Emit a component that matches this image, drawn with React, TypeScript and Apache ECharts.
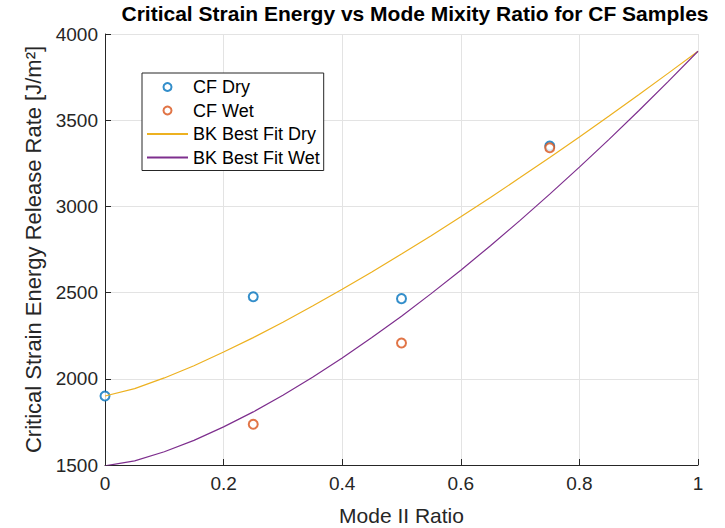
import { useEffect, useRef } from 'react';
import * as echarts from 'echarts';

const dryRatio = [0, 0.25, 0.5, 0.75];
const cfDry = [1900, 2476, 2465, 3350];
const wetRatio = [0.25, 0.5, 0.75];
const cfWet = [1736, 2208, 3340];

const fitRatio = [0, 0.05, 0.1, 0.15, 0.2, 0.25, 0.3, 0.35, 0.4, 0.45, 0.5, 0.55, 0.6, 0.65, 0.7, 0.75, 0.8, 0.85, 0.9, 0.95, 1];
const bkDry = [1900, 1943, 2005, 2076, 2155, 2239, 2328, 2422, 2519, 2620, 2724, 2830, 2940, 3052, 3167, 3284, 3403, 3524, 3648, 3773, 3900];
const bkWet = [1495, 1524, 1577, 1643, 1721, 1808, 1905, 2009, 2120, 2239, 2363, 2494, 2630, 2772, 2919, 3071, 3228, 3389, 3555, 3725, 3900];

const FONT = '"Liberation Sans", Arial, Helvetica, sans-serif';
const AX = '#262626';

export default function App() {
  const ref = useRef<HTMLDivElement>(null);
  useEffect(() => {
    if (!ref.current) return;
    const chart = echarts.init(ref.current, null, { renderer: 'svg' });
    const pair = (xs: number[], ys: number[]) => xs.map((x, i) => [x, ys[i]]);
    chart.setOption({
      animation: false,
      backgroundColor: '#ffffff',
      title: {
        text: 'Critical Strain Energy vs Mode Mixity Ratio for CF Samples',
        left: 415,
        top: 3,
        padding: 0,
        textAlign: 'center',
        textStyle: { fontFamily: FONT, fontSize: 21, fontWeight: 'bold', color: '#000' },
      },
      grid: { left: 105, right: 27, top: 34, bottom: 63, containLabel: false, outerBoundsMode: 'none' },
      legend: {
        orient: 'vertical',
        left: 142,
        top: 73,
        data: [
          { name: 'CF Dry', icon: 'emptyCircle' },
          { name: 'CF Wet', icon: 'emptyCircle' },
          { name: 'BK Best Fit Dry', itemStyle: { opacity: 0 } },
          { name: 'BK Best Fit Wet', itemStyle: { opacity: 0 } },
        ],
        itemWidth: 41,
        itemHeight: 8,
        itemGap: 5.5,
        padding: [5, 4, 4, 4],
        backgroundColor: '#ffffff',
        borderColor: AX,
        borderWidth: 1,
        borderRadius: 0,
        selectedMode: false,
        textStyle: { fontFamily: FONT, fontSize: 18, color: '#000' },
      },
      xAxis: {
        type: 'value',
        min: 0,
        max: 1,
        interval: 0.2,
        name: 'Mode II Ratio',
        nameLocation: 'middle',
        nameGap: 40,
        nameTextStyle: { fontFamily: FONT, fontSize: 21, color: AX },
        axisLine: { show: true, onZero: false, lineStyle: { color: AX, width: 1 } },
        axisTick: { show: true, inside: true, length: 6, lineStyle: { color: AX } },
        axisLabel: { fontFamily: FONT, fontSize: 19, color: AX, margin: 9 },
        splitLine: { show: true, lineStyle: { color: '#e3e3e3', width: 1 } },
      },
      yAxis: {
        type: 'value',
        min: 1500,
        max: 4000,
        interval: 500,
        name: 'Critical Strain Energy Release Rate [J/m²]',
        nameLocation: 'middle',
        nameGap: 58,
        nameTextStyle: { fontFamily: FONT, fontSize: 22, color: AX },
        axisLine: { show: true, onZero: false, lineStyle: { color: AX, width: 1 } },
        axisTick: { show: true, inside: true, length: 6, lineStyle: { color: AX } },
        axisLabel: { fontFamily: FONT, fontSize: 19, color: AX, margin: 7, formatter: (v: number) => String(v) },
        splitLine: { show: true, lineStyle: { color: '#e3e3e3', width: 1 } },
      },
      series: [
        {
          name: 'CF Dry',
          type: 'scatter',
          symbol: 'emptyCircle',
          symbolSize: 9,
          itemStyle: { color: '#0072BD', borderWidth: 1.2 },
          data: pair(dryRatio, cfDry),
          z: 2,
        },
        {
          name: 'CF Wet',
          type: 'scatter',
          symbol: 'emptyCircle',
          symbolSize: 9,
          itemStyle: { color: '#D95319', borderWidth: 1.2 },
          data: pair(wetRatio, cfWet),
          z: 3,
        },
        {
          name: 'BK Best Fit Dry',
          type: 'line',
          symbol: 'none',
          smooth: false,
          lineStyle: { color: '#EDB120', width: 1.2 },
          itemStyle: { color: '#EDB120' },
          data: pair(fitRatio, bkDry),
          z: 4,
        },
        {
          name: 'BK Best Fit Wet',
          type: 'line',
          symbol: 'none',
          smooth: false,
          lineStyle: { color: '#7E2F8E', width: 1.2 },
          itemStyle: { color: '#7E2F8E' },
          data: pair(fitRatio, bkWet),
          z: 5,
        },
      ],
    });
    return () => chart.dispose();
  }, []);
  return <div ref={ref} style={{ position: 'fixed', left: 0, top: 0, width: 725, height: 528 }} />;
}
